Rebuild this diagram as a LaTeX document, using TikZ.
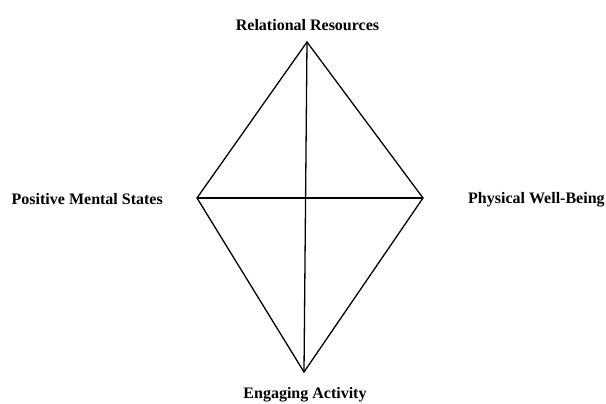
\documentclass[tikz,border=0pt]{standalone}
\usepackage{fontspec}
\setmainfont{Liberation Serif}
\begin{document}
\begin{tikzpicture}[x=1pt,y=-1pt,
  vertexlabel/.style={font=\fontsize{16}{18}\selectfont\bfseries, inner sep=0pt},
  edge/.style={line width=1.3pt, line join=miter}]
\useasboundingbox (0,0) rectangle (606,404);
% corners of the kite
\coordinate (T) at (307,42);
\coordinate (L) at (197,198);
\coordinate (R) at (423,198);
\coordinate (B) at (304,372);
% labels
\node[vertexlabel] (rel) at (307.5,25) {Relational Resources};
\node[vertexlabel, anchor=east] (pos) at (163,199) {Positive Mental States};
\node[vertexlabel, anchor=west] (phy) at (468,200) {Physical Well-Being};
\node[vertexlabel] (eng) at (305,395) {Engaging Activity};
% outline and diagonals
\draw[edge] (T) -- (R) -- (B) -- (L) -- cycle;
\draw[edge] (T) -- (B);
\draw[edge] (L) -- (R);
\end{tikzpicture}
\end{document}
